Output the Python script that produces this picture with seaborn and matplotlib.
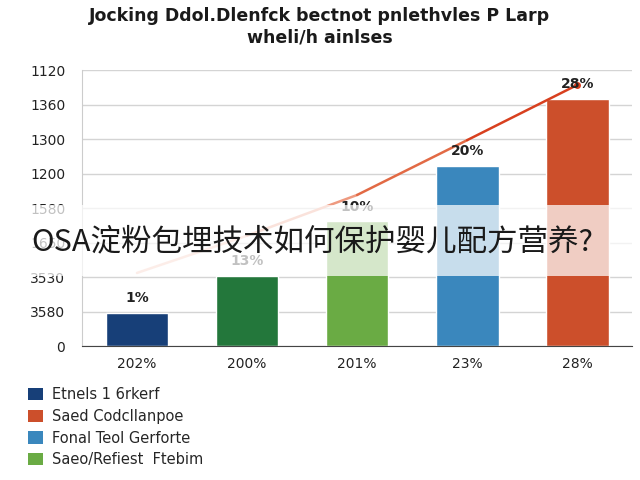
import matplotlib
matplotlib.use("Agg")
import matplotlib.pyplot as plt
from matplotlib.patches import Rectangle, Patch
import pandas as pd
import seaborn as sns

# data
groups = ["g1", "g2", "g3", "g4", "g5"]
x_labels = ["202%", "200%", "201%", "23%", "28%"]
bar_values = [0.96, 2.03, 3.62, 5.22, 7.16]
bar_labels = ["1%", "13%", "10%", "20%", "28%"]
trend_values = [2.12, 3.2, 4.38, 5.97, 7.57]
y_tick_labels = ["0", "3580", "3530", "1650", "1580", "1200", "1300", "1360", "1120"]
legend_labels = ["Etnels 1 6rkerf", "Saed Codcllanpoe", "Fonal Teol Gerforte", "Saeo/Refiest  Ftebim"]

bar_colors = ["#173f78", "#23773b", "#6aab44", "#3a87bd", "#cc4f2b"]
legend_colors = ["#173f78", "#cc4f2b", "#3a87bd", "#6aab44"]
trend_colors = ["#f5c0b0", "#ee9a80", "#e26a45", "#d8401f"]

sns.set_style("white")
plt.rcParams["font.family"] = ["DejaVu Sans"]

df = pd.DataFrame({"group": groups, "value": bar_values})

fig = plt.figure(figsize=(6.4, 4.8), dpi=100)
ax = fig.add_axes([0.128, 0.279, 0.86, 0.575])

sns.barplot(data=df, x="group", y="value", hue="group", palette=bar_colors,
            saturation=1, width=0.57, legend=False, ax=ax, zorder=2)

# trend line, fading from pale pink to red
for i in range(len(trend_values) - 1):
    ax.plot([i, i + 1], trend_values[i:i + 2], color=trend_colors[i], lw=1.8, zorder=3)
ax.plot(len(trend_values) - 1, trend_values[-1], "o", color="#d8401f", ms=4, zorder=3)

for i, (v, t) in enumerate(zip(bar_values, bar_labels)):
    ax.text(i, v + 0.22, t, ha="center", va="bottom", fontsize=10,
            fontweight="bold", color="#222222", zorder=4)

ax.set_xlim(-0.5, 4.5)
ax.set_ylim(0, 8)
ax.set_yticks(range(len(y_tick_labels)))
ax.set_yticklabels(y_tick_labels, fontsize=10, color="#222222")
ax.set_xticks(range(len(x_labels)))
ax.set_xticklabels(x_labels, fontsize=10, color="#222222")
ax.set_xticks([i + 0.5 for i in range(len(x_labels))], minor=True)
ax.tick_params(axis="x", which="major", length=0, pad=8)
ax.tick_params(axis="x", which="minor", length=3, color="#555555")
ax.tick_params(axis="y", length=0, pad=12)
ax.set_xlabel("")
ax.set_ylabel("")
ax.grid(axis="y", color="#d4d4d4", lw=1, zorder=0)
ax.set_axisbelow(True)
for s in ["top", "right"]:
    ax.spines[s].set_visible(False)
ax.spines["left"].set_color("#cccccc")
ax.spines["bottom"].set_color("#444444")

fig.suptitle("Jocking Ddol.Dlenfck bectnot pnlethvles P Larp\nwheli/h ainlses",
             x=0.5, y=0.985, fontsize=12.5, fontweight="bold", color="#1a1a1a",
             linespacing=1.25)

handles = [Patch(facecolor=c, edgecolor="none") for c in legend_colors]
fig.legend(handles, legend_labels, loc="upper left", bbox_to_anchor=(0.035, 0.205),
           frameon=False, fontsize=10.5, handlelength=1.0, handleheight=0.9,
           handletextpad=0.6, labelspacing=0.45, borderaxespad=0)

# washed-out band with the overlaid caption
fig.patches.append(Rectangle((0, 0.425), 1, 0.148, transform=fig.transFigure,
                             facecolor="white", alpha=0.72, edgecolor="none", zorder=10))
fig.text(0.488, 0.497, "OSA淀粉包埋技术如何保护婴儿配方营养?", ha="center", va="center",
         fontsize=22, color="#1a1a1a", family=["Noto Sans CJK SC", "DejaVu Sans"], zorder=11)

fig.savefig("out.png", dpi=100)
